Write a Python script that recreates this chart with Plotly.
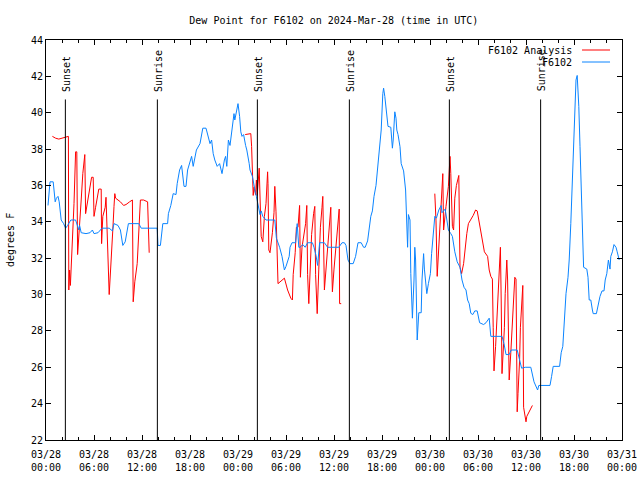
import pandas as pd
import plotly.graph_objects as go

BASE = pd.Timestamp("2024-03-28 00:00")

# ---- data (hours since 2024-03-28 00:00 UTC, dew point in deg F) ----
obs_hours = [0.25, 0.5, 0.9, 1.15, 1.3, 1.5, 1.65, 1.9, 2.2, 2.45, 2.7, 3.1, 3.7, 4.1, 4.2, 4.4, 5.0, 5.5, 5.8, 6.0,
             6.5, 7.0, 7.9, 8.3, 8.5, 9.0, 9.3, 9.6, 9.9, 10.3, 11.6, 11.9, 13.9, 14.0, 14.3, 14.6, 15.2, 15.3, 15.6, 15.9,
             16.25, 16.4, 16.7, 16.95, 17.25, 17.5, 17.7, 18.2, 18.4, 18.8, 19.25, 19.6, 20.0, 20.3, 20.5, 20.7, 20.9, 21.1, 21.4, 21.7,
             21.8, 22.0, 22.3, 22.45, 22.6, 22.8, 23.0, 23.2, 23.5, 23.6, 23.85, 24.0, 24.2, 24.35, 24.5, 24.7, 24.95, 25.1, 25.4, 25.5,
             25.8, 25.9, 26.2, 26.3, 26.5, 26.75, 26.9, 27.1, 27.5, 28.6, 28.8, 29.2, 29.5, 29.8, 30.0, 30.4, 30.5, 30.75, 31.2, 31.4,
             31.6, 31.75, 32.1, 32.4, 32.7, 33.3, 33.5, 33.75, 33.95, 34.2, 34.8, 35.0, 35.2, 36.6, 37.0, 37.3, 37.5, 37.75, 38.0, 38.4,
             38.7, 39.0, 39.4, 39.7, 39.9, 40.2, 40.4, 40.6, 40.8, 41.0, 41.25, 41.45, 41.65, 41.9, 42.1, 42.2, 42.35, 42.6, 42.75, 43.1,
             43.3, 43.4, 43.6, 43.75, 43.85, 44.0, 44.25, 44.4, 44.6, 44.7, 44.95, 45.1, 45.2, 45.3, 45.5, 45.6, 45.75, 45.8, 46.0, 46.1,
             46.2, 46.3, 46.4, 46.6, 46.9, 47.0, 47.2, 47.3, 47.6, 47.8, 48.05, 48.2, 48.4, 48.6, 48.8, 49.1, 49.4, 49.5, 49.9, 50.1,
             50.3, 50.6, 50.8, 51.1, 51.4, 51.75, 52.0, 52.25, 52.5, 52.7, 52.9, 53.1, 53.35, 53.6, 53.9, 54.2, 54.7, 55.0, 55.4, 55.6,
             57.0, 57.25, 57.5, 57.9, 58.15, 58.9, 59.25, 59.45, 59.9, 60.6, 61.0, 61.25, 61.45, 61.6, 63.0, 63.2, 63.4, 64.2, 64.4, 64.6,
             64.75, 65.0, 65.25, 65.4, 65.6, 65.7, 65.8, 66.0, 66.1, 66.25, 66.4, 66.6, 66.75, 66.95, 67.2, 67.6, 67.75, 67.9, 68.1, 68.3,
             68.4, 68.8, 69.0, 69.25, 69.5, 69.75, 69.9, 70.1, 70.3, 70.5, 70.6, 70.8, 71.0, 71.25, 71.4, 71.65]
obs_values = [34.9, 36.2, 36.2, 35.1, 35.3, 35.4, 35.1, 34.1, 33.9, 33.65, 33.8, 34.1, 34.1, 33.55, 33.8, 33.4, 33.35, 33.4, 33.55, 33.35,
              33.4, 33.65, 33.65, 33.5, 33.9, 33.8, 33.55, 32.7, 32.9, 33.9, 33.9, 33.65, 33.65, 32.7, 32.7, 33.9, 33.9, 34.45, 34.9, 35.55,
              35.5, 36.1, 36.85, 37.1, 35.95, 35.95, 36.85, 37.6, 37.05, 37.95, 38.3, 39.15, 39.15, 38.7, 38.3, 38.5, 37.75, 37.4, 37.05, 37.2,
              36.95, 36.65, 37.4, 37.6, 37.05, 38.5, 38.2, 38.8, 39.95, 39.6, 40.15, 40.5, 39.8, 38.95, 38.7, 38.8, 38.2, 37.95, 37.2, 36.85,
              36.5, 36.2, 35.55, 35.4, 34.85, 34.4, 34.6, 34.3, 34.1, 34.1, 33.1, 32.6, 32.1, 31.35, 31.55, 32.1, 32.6, 32.85, 32.85, 33.9,
              32.6, 32.6, 32.75, 32.6, 32.85, 32.85, 32.6, 32.15, 31.6, 32.85, 32.85, 32.75, 32.6, 32.6, 32.85, 32.85, 32.7, 31.9, 31.7, 31.7,
              32.1, 32.85, 32.85, 32.6, 32.6, 32.95, 33.75, 34.3, 34.6, 35.4, 36.0, 36.85, 37.75, 39.05, 41.05, 41.35, 40.9, 39.6, 39.25, 39.2,
              38.05, 38.5, 40.05, 39.7, 39.05, 38.8, 38.13, 37.2, 37.0, 36.8, 35.75, 33.65, 32.6, 34.4, 34.1, 31.15, 29.5, 28.7, 30.8, 32.6,
              31.9, 29.15, 27.5, 29.0, 29.0, 30.8, 32.25, 31.4, 30.05, 30.6, 31.15, 32.25, 33.35, 34.3, 34.2, 34.65, 34.9, 34.5, 34.7, 34.1,
              33.55, 33.35, 33.2, 32.35, 31.8, 31.5, 30.8, 30.4, 30.25, 29.7, 29.5, 28.97, 28.9, 29.1, 29.1, 28.45, 28.35, 28.45, 28.7, 27.7,
              27.7, 27.3, 26.7, 26.7, 26.95, 26.95, 26.4, 25.95, 26.0, 26.0, 25.2, 24.95, 24.75, 25.0, 25.0, 25.5, 26.05, 26.05, 26.8, 27.15,
              28.4, 30.05, 30.95, 31.9, 33.9, 35.0, 36.5, 38.3, 39.95, 41.8, 42.05, 40.35, 38.15, 34.65, 31.5, 31.4, 30.95, 29.7, 29.7, 29.15,
              28.95, 28.95, 29.4, 29.9, 30.2, 30.2, 30.8, 31.15, 31.9, 31.4, 32.1, 32.35, 32.75, 32.6, 32.35, 31.9]

ana1_hours = [0.8, 1.2, 1.6, 2.0, 2.3, 2.65, 2.8, 2.85, 2.95, 3.05, 3.3, 3.5, 3.7, 3.85, 3.95, 4.2, 4.4, 4.6, 4.85, 4.95,
              5.2, 5.45, 5.7, 5.9, 6.0, 6.2, 6.45, 6.6, 6.9, 6.95, 7.1, 7.4, 7.5, 7.6, 7.8, 7.9, 8.1, 8.35, 8.5, 8.6,
              8.7, 9.0, 9.3, 9.7, 10.0, 10.45, 10.8, 10.9, 11.1, 11.4, 11.6, 11.8, 12.2, 12.7, 12.9]
ana1_values = [38.7, 38.6, 38.55, 38.6, 38.65, 38.7, 38.7, 30.25, 31.35, 30.5, 32.9, 35.0, 37.85, 37.85, 32.2, 33.6, 35.2, 36.65, 37.7, 34.45,
               35.2, 35.95, 36.45, 36.45, 34.3, 34.8, 35.35, 35.8, 35.8, 32.8, 34.3, 34.8, 35.35, 33.55, 31.35, 30.0, 31.35, 33.55, 34.85, 35.55,
               35.3, 35.2, 35.1, 34.9, 34.95, 35.1, 35.2, 29.6, 30.7, 31.7, 33.9, 35.2, 35.2, 35.1, 32.3]

ana2_hours = [24.9, 25.6, 25.7, 25.8, 25.9, 26.0, 26.2, 26.3, 26.4, 26.65, 26.75, 26.9, 27.1, 27.3, 27.5, 27.7, 27.75, 27.85, 28.0, 28.3,
              28.5, 28.6, 28.75, 28.9, 29.0, 29.8, 30.2, 30.6, 30.8, 30.9, 31.15, 31.3, 31.5, 31.7, 31.8, 32.0, 32.3, 32.45, 32.6, 32.7,
              32.85, 33.0, 33.2, 33.45, 33.6, 33.7, 33.9, 34.1, 34.3, 34.5, 34.6, 34.8, 35.0, 35.2, 35.4, 35.6, 35.7, 35.8, 36.0, 36.25,
              36.5, 36.65, 36.7, 36.9]
ana2_values = [38.8, 38.85, 38.15, 36.65, 35.45, 35.9, 35.5, 36.3, 35.45, 36.95, 34.8, 33.2, 32.9, 34.3, 35.0, 36.75, 36.1, 32.45, 32.3, 33.4,
               34.5, 35.95, 34.55, 31.9, 30.6, 30.9, 30.25, 29.8, 29.7, 31.1, 32.3, 33.7, 33.7, 34.9, 30.95, 32.6, 33.35, 33.9, 34.9, 31.1,
               29.5, 30.8, 33.3, 34.45, 34.85, 31.1, 28.95, 31.4, 33.7, 34.8, 35.4, 30.25, 31.4, 32.9, 33.95, 34.8, 31.9, 30.15, 31.4, 32.6,
               33.7, 34.7, 29.5, 29.5]

ana3_hours = [48.6, 48.75, 48.9, 49.1, 49.25, 49.4, 49.6, 49.7, 49.9, 50.0, 50.3, 50.5, 50.6, 50.8, 50.95, 51.1, 51.3, 51.5, 51.6, 51.75,
              51.95, 52.2, 52.4, 52.6, 52.8, 53.1, 53.4, 53.7, 53.9, 54.1, 54.4, 54.6, 54.8, 55.2, 55.4, 55.6, 55.8, 55.9, 56.0, 56.2,
              56.35, 56.5, 56.7, 56.8, 56.9, 57.0, 57.2, 57.3, 57.4, 57.6, 57.7, 57.8, 57.9, 58.1, 58.3, 58.5, 58.6, 58.75, 58.8, 58.9,
              59.0, 59.2, 59.3, 59.5, 59.6, 59.7, 59.9, 60.0, 60.1, 60.4, 60.7, 60.8]
ana3_values = [35.55, 34.05, 31.0, 32.45, 34.1, 35.2, 36.65, 33.55, 34.5, 34.85, 35.95, 37.6, 36.65, 33.75, 33.55, 35.3, 36.0, 36.4, 36.55, 31.5,
               31.15, 31.7, 32.6, 33.35, 33.9, 34.1, 34.35, 34.65, 34.6, 34.1, 33.35, 32.8, 32.35, 32.1, 31.35, 31.0, 30.85, 28.2, 25.8, 27.15,
               28.6, 30.4, 31.9, 32.6, 29.7, 25.65, 27.3, 28.2, 30.05, 31.9, 30.8, 28.2, 25.3, 26.8, 28.4, 30.05, 30.95, 30.85, 28.2, 23.55,
               24.55, 26.4, 28.2, 29.7, 30.5, 23.8, 23.3, 23.0, 23.3, 23.55, 23.8, 23.9]

sun_labels = ["Sunset", "Sunrise", "Sunset", "Sunrise", "Sunset", "Sunrise"]
sun_hours = [2.42, 13.92, 26.42, 37.92, 50.42, 61.83]

series_names = ["F6102 Analysis", "F6102"]
series_colors = ["#ff0000", "#0a84ff"]


def to_time(hours):
    return [BASE + pd.Timedelta(hours=h) for h in hours]


# analysis with gaps between the three segments
ana_x, ana_y = [], []
for hh, vv in [(ana1_hours, ana1_values), (ana2_hours, ana2_values), (ana3_hours, ana3_values)]:
    if ana_x:
        ana_x.append(None)
        ana_y.append(None)
    ana_x += to_time(hh)
    ana_y += vv

FONT = "DejaVu Sans Mono"

fig = go.Figure()
fig.add_trace(go.Scatter(x=ana_x, y=ana_y, mode="lines", name=series_names[0],
                         line=dict(color=series_colors[0], width=1), connectgaps=False))
fig.add_trace(go.Scatter(x=to_time(obs_hours), y=obs_values, mode="lines", name=series_names[1],
                         line=dict(color=series_colors[1], width=1)))

# sunrise / sunset markers
for lab, h in zip(sun_labels, sun_hours):
    t = BASE + pd.Timedelta(hours=h)
    fig.add_shape(type="line", xref="x", yref="y", x0=t, x1=t, y0=22, y1=40.73,
                  line=dict(color="black", width=1))
    fig.add_annotation(x=t, y=41.05, xref="x", yref="y", text=lab, textangle=-90,
                       showarrow=False, xanchor="center", yanchor="bottom", xshift=1,
                       font=dict(family=FONT, size=10, color="black"))

# gnuplot style legend (text right, sample on the right)
for i, (nm, col) in enumerate(zip(series_names, series_colors)):
    yp = 0.975 - i * 0.03
    fig.add_annotation(x=0.9167, y=yp, xref="paper", yref="paper", text=nm, showarrow=False,
                       xanchor="right", yanchor="middle", font=dict(family=FONT, size=10, color="black"))
    fig.add_shape(type="line", xref="paper", yref="paper", x0=0.9306, x1=0.9792, y0=yp, y1=yp,
                  line=dict(color=col, width=1))

# y axis label
fig.add_annotation(x=-0.0625, y=0.5, xref="paper", yref="paper", text="degrees F", textangle=-90,
                   showarrow=False, xanchor="center", yanchor="middle",
                   font=dict(family=FONT, size=10, color="black"))

fig.update_layout(
    width=640, height=480,
    margin=dict(l=46, r=18, t=40, b=40, autoexpand=False),
    paper_bgcolor="white", plot_bgcolor="white",
    showlegend=False,
    hovermode=False,
    font=dict(family=FONT, size=10, color="black"),
    title=dict(text="Dew Point for F6102 on 2024-Mar-28 (time in UTC)", x=0.5216, xanchor="center",
               y=1 - 20 / 480, yanchor="middle", yref="container",
               font=dict(family=FONT, size=10, color="black")),
    xaxis=dict(range=[BASE, BASE + pd.Timedelta(hours=72)], type="date", automargin=False,
               tick0=BASE, dtick=6 * 3600 * 1000, tickformat="%m/%d<br>%H:%M",
               showgrid=False, zeroline=False, showline=True, linecolor="black", linewidth=1,
               mirror="ticks", ticks="inside", ticklen=5, tickcolor="black", ticklabelstandoff=5,
               minor=dict(dtick=2 * 3600 * 1000, ticks="inside", ticklen=3, tickcolor="black", showgrid=False),
               tickfont=dict(family=FONT, size=10, color="black")),
    yaxis=dict(range=[22, 44], dtick=2, tick0=22, automargin=False,
               showgrid=False, zeroline=False, showline=True, linecolor="black", linewidth=1,
               mirror="ticks", ticks="inside", ticklen=5, tickcolor="black",
               tickfont=dict(family=FONT, size=10, color="black")),
)

# remove the browser's default 8px body margin so the 640x480 figure fills the window
fig.write_html("out.html", config={"displayModeBar": False, "staticPlot": True},
               post_script="document.body.style.margin='0px';document.body.style.overflow='hidden';")
